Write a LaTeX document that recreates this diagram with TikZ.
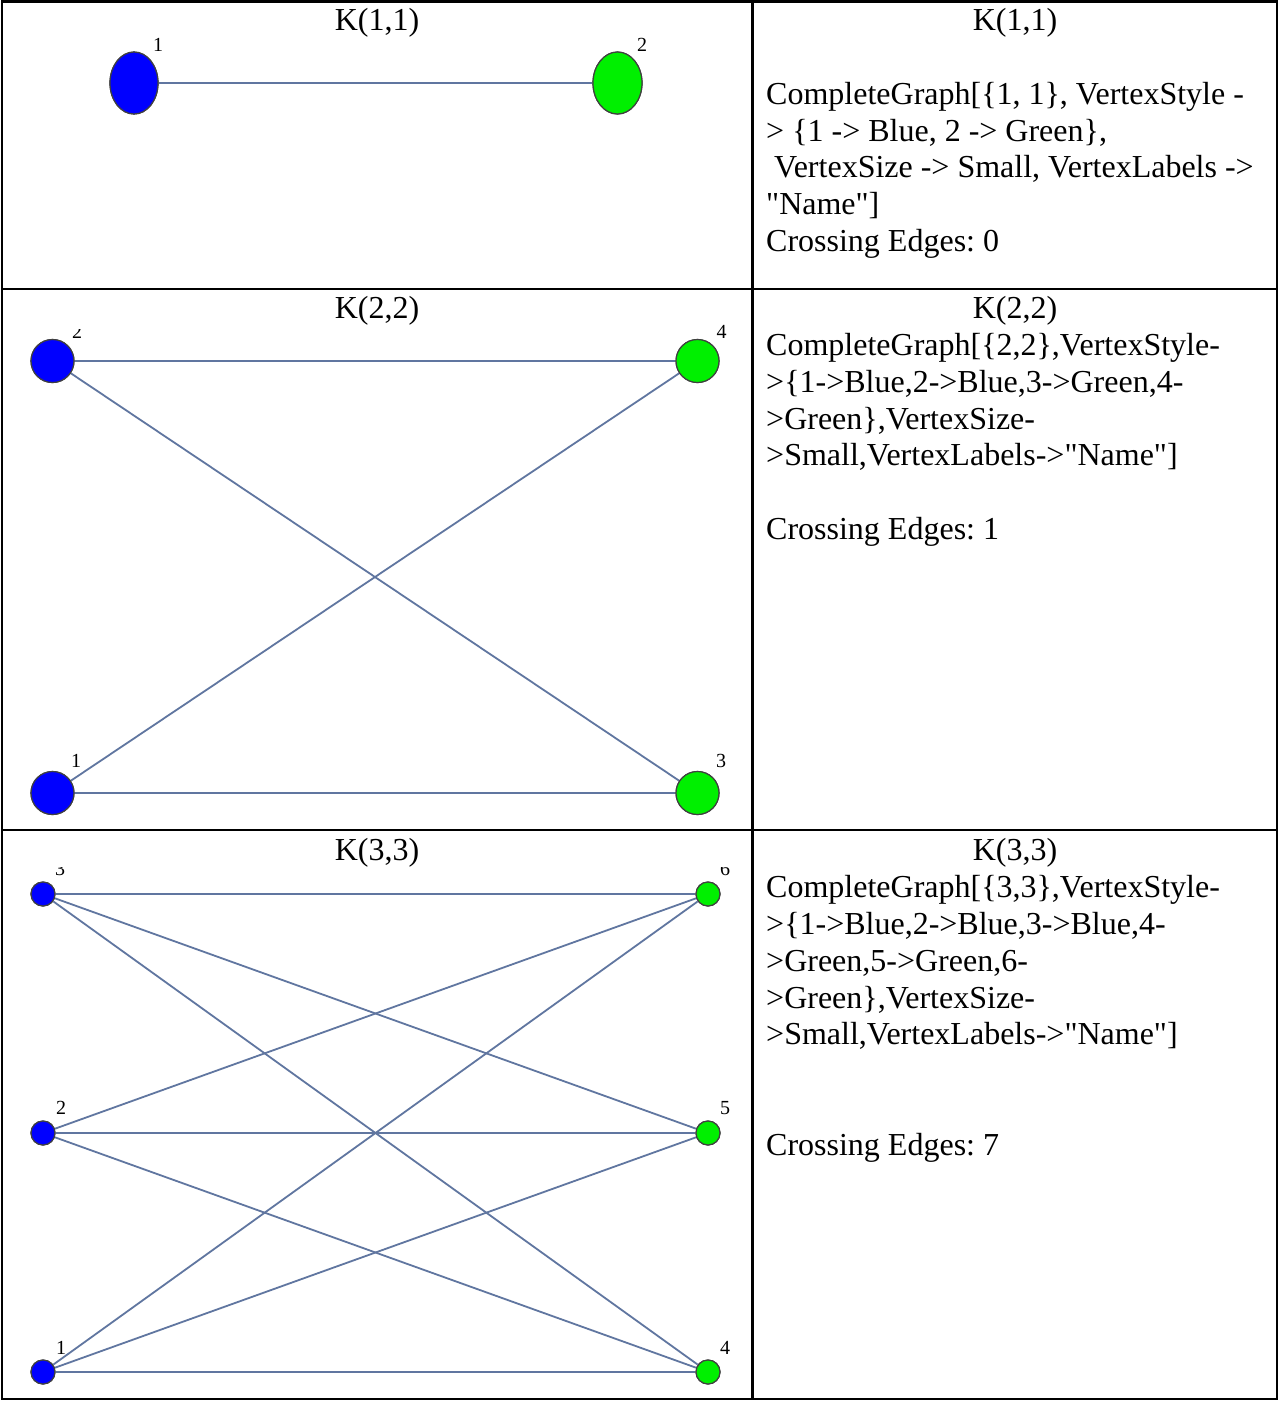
\documentclass[tikz,border=0pt]{standalone}
\usepackage{fontspec}
\setmainfont{Liberation Serif}[Ligatures=TeXOff]
\usetikzlibrary{shapes.geometric}
\definecolor{edgec}{RGB}{96,118,160}
\definecolor{vblue}{RGB}{0,0,255}
\definecolor{vgreen}{RGB}{0,240,0}
\frenchspacing
\begin{document}
\begin{tikzpicture}[x=1pt,y=-1pt,
  gridline/.style={line width=2.6pt,black},
  edge/.style={draw=edgec,line width=1.8pt},
  vbase/.style={draw=black!75,line width=1.2pt,inner sep=0pt},
  bigb/.style={vbase,ellipse,fill=vblue,minimum width=48pt,minimum height=62pt},
  bigg/.style={vbase,ellipse,fill=vgreen,minimum width=49pt,minimum height=62pt},
  midb/.style={vbase,circle,fill=vblue,minimum size=43pt},
  midg/.style={vbase,circle,fill=vgreen,minimum size=43pt},
  smlb/.style={vbase,circle,fill=vblue,minimum size=24pt},
  smlg/.style={vbase,circle,fill=vgreen,minimum size=24pt},
  vlabel/.style={font=\fontsize{20}{20}\selectfont,inner sep=0pt},
  txt/.style={anchor=base west,font=\fontsize{32}{37}\selectfont,inner sep=0pt},
  ttl/.style={anchor=base,font=\fontsize{32}{37}\selectfont,inner sep=0pt}]
\useasboundingbox (0,0) rectangle (1279,1401);
\fill[white] (0,0) rectangle (1279,1401);

% ---------- table grid ----------
\coordinate (tl) at (2,1.5);
\coordinate (br) at (1277,1399);
\draw[gridline] (tl) rectangle (br);
\coordinate (ra) at (2,289);   \coordinate (rb) at (1277,289);
\coordinate (rc) at (2,830);   \coordinate (rd) at (1277,830);
\coordinate (ca) at (752.5,1.5); \coordinate (cb) at (752.5,1399);
\draw[gridline] (ra) -- (rb);
\draw[gridline] (rc) -- (rd);
\draw[gridline] (ca) -- (cb);

% ---------- row 1 : K(1,1) ----------
\node[ttl] (t1) at (377,30) {K(1,1)};
\node[bigb] (a1) at (134,83) {};
\node[bigg] (a2) at (617.5,83) {};
\draw[edge] (a1) -- (a2);
\node[bigb] at (a1) {};
\node[bigg] at (a2) {};
\node[vlabel] (la1) at (158,45) {1};
\node[vlabel] (la2) at (642,45) {2};

\node[ttl] (u1) at (1015,30) {K(1,1)};
\node[txt] (u2) at (766,104) {CompleteGraph[\{1, 1\}, VertexStyle -};
\node[txt] (u3) at (766,141) {> \{1 -> Blue, 2 -> Green\},};
\node[txt] (u4) at (766,177) {\ VertexSize -> Small, VertexLabels ->};
\node[txt] (u5) at (766,214) {"Name"]};
\node[txt] (u6) at (766,251) {Crossing Edges: 0};

% ---------- row 2 : K(2,2) ----------
\node[ttl] (t2) at (377,318) {K(2,2)};
\node[midb] (b2) at (52.5,361) {};
\node[midg] (b4) at (697.5,361) {};
\node[midb] (b1) at (52.5,793) {};
\node[midg] (b3) at (697.5,793) {};
\draw[edge] (b2) -- (b4);
\draw[edge] (b2) -- (b3);
\draw[edge] (b1) -- (b4);
\draw[edge] (b1) -- (b3);
\node[midb] at (b2) {};
\node[midg] at (b4) {};
\node[midb] at (b1) {};
\node[midg] at (b3) {};
\begin{scope}
  \clip (60,329) rectangle (100,345);
  \node[vlabel] (lb2) at (77,332) {2};
\end{scope}
\node[vlabel] (lb4) at (721.5,332) {4};
\node[vlabel] (lb1) at (76,761) {1};
\node[vlabel] (lb3) at (721,761) {3};

\node[ttl] (v1) at (1015,318) {K(2,2)};
\node[txt] (v2) at (766,355) {CompleteGraph[\{2,2\},VertexStyle-};
\node[txt] (v3) at (766,392) {>\{1->Blue,2->Blue,3->Green,4-};
\node[txt] (v4) at (766,429) {>Green\},VertexSize-};
\node[txt] (v5) at (766,465) {>Small,VertexLabels->"Name"]};
\node[txt] (v6) at (766,539) {Crossing Edges: 1};

% ---------- row 3 : K(3,3) ----------
\node[ttl] (t3) at (377,860) {K(3,3)};
\node[smlb] (c3) at (43,894) {};
\node[smlb] (c2) at (43,1133) {};
\node[smlb] (c1) at (43,1372) {};
\node[smlg] (c6) at (708,894) {};
\node[smlg] (c5) at (708,1133) {};
\node[smlg] (c4) at (708,1372) {};
\foreach \p in {c1,c2,c3}{
  \foreach \q in {c4,c5,c6}{
    \draw[edge] (\p) -- (\q);
  }
}
\node[smlb] at (c3) {};
\node[smlb] at (c2) {};
\node[smlb] at (c1) {};
\node[smlg] at (c6) {};
\node[smlg] at (c5) {};
\node[smlg] at (c4) {};
\begin{scope}
  \clip (40,867) rectangle (750,880);
  \node[vlabel] (lc3) at (60,869) {3};
  \node[vlabel] (lc6) at (725,869) {6};
\end{scope}
\node[vlabel] (lc2) at (61,1108) {2};
\node[vlabel] (lc5) at (725,1108) {5};
\node[vlabel] (lc1) at (61,1348) {1};
\node[vlabel] (lc4) at (725,1348) {4};

\node[ttl] (w1) at (1015,860) {K(3,3)};
\node[txt] (w2) at (766,897) {CompleteGraph[\{3,3\},VertexStyle-};
\node[txt] (w3) at (766,934) {>\{1->Blue,2->Blue,3->Blue,4-};
\node[txt] (w4) at (766,971) {>Green,5->Green,6-};
\node[txt] (w5) at (766,1008) {>Green\},VertexSize-};
\node[txt] (w6) at (766,1044) {>Small,VertexLabels->"Name"]};
\node[txt] (w7) at (766,1155) {Crossing Edges: 7};
\end{tikzpicture}
\end{document}
